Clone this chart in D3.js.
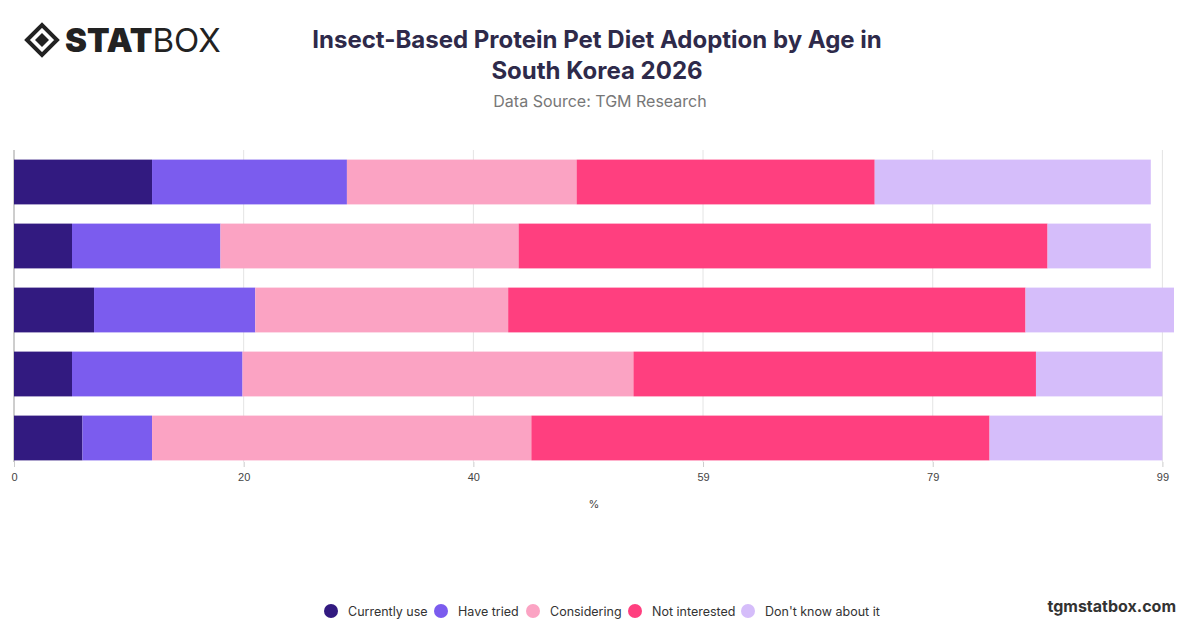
<!DOCTYPE html>
<html><head><meta charset="utf-8">
<script src="https://cdn.jsdelivr.net/npm/d3@7"></script>
<style>body{margin:0;background:#fff;font-family:Inter,"Noto Sans",sans-serif}</style>
</head><body><svg id="chart" width="1200" height="628"></svg>
<script>
// Данные
let ages = ["18-24", "25-34", "35-44", "45-54", "55+"];
let seriesNames = ["Currently use", "Have tried", "Considering", "Not interested", "Don't know about it"];
let colors = ["#321a80", "#7b5cee", "#fba3c3", "#ff3f7f", "#d5bdfa"];
let currentlyUse = [11.9, 5, 6.9, 5, 5.9];
let haveTried = [16.8, 12.8, 13.9, 14.7, 6];
let considering = [19.8, 25.7, 21.8, 33.7, 32.7];
let notInterested = [25.7, 45.6, 44.6, 34.7, 39.5];
let dontKnow = [23.8, 8.9, 12.8, 10.9, 14.9];
let tickValues = [0, 19.8, 39.6, 59.4, 79.2, 99];

let svg = d3.select("#chart");

// логотип
let logo = svg.append("g").attr("transform", "translate(27,40)");
logo.append("path").attr("d", "M0,0 L15,-15 L30,0 L15,15 Z").attr("fill", "none").attr("stroke", "#222").attr("stroke-width", 4);
logo.append("path").attr("d", "M8,0 L15,-7 L22,0 L15,7 Z").attr("fill", "#222");
logo.append("text").attr("x", 38).attr("y", 12).attr("font-size", 33).attr("fill", "#222")
  .html('<tspan font-weight="900">STAT</tspan><tspan font-weight="400">BOX</tspan>');

// заголовок
svg.append("text").attr("x", 597).attr("y", 48).attr("text-anchor", "middle").attr("font-size", 24).attr("font-weight", 700).attr("fill", "#2e2a4a").text("Insect-Based Protein Pet Diet Adoption by Age in");
svg.append("text").attr("x", 597).attr("y", 79).attr("text-anchor", "middle").attr("font-size", 24).attr("font-weight", 700).attr("fill", "#2e2a4a").text("South Korea 2026");
svg.append("text").attr("x", 600).attr("y", 107).attr("text-anchor", "middle").attr("font-size", 16).attr("fill", "#777").text("Data Source: TGM Research");

let x = d3.scaleLinear().domain([0, 100]).range([14, 1174]);
let y = d3.scaleBand().domain(ages).range([150, 470]).paddingInner(0.3).paddingOuter(0.15);

// сетка
svg.append("g").selectAll("line").data(tickValues).join("line")
  .attr("x1", d => x(d)).attr("x2", d => x(d)).attr("y1", 150).attr("y2", 462)
  .attr("stroke", "#e4e4e4");
svg.append("line").attr("x1", 14).attr("x2", 14).attr("y1", 150).attr("y2", 462).attr("stroke", "#aaa");

// стек
let table = ages.map((a, i) => ({age: a, s0: currentlyUse[i], s1: haveTried[i], s2: considering[i], s3: notInterested[i], s4: dontKnow[i]}));
let stack = d3.stack().keys(["s0", "s1", "s2", "s3", "s4"])(table);
svg.append("g").selectAll("g").data(stack).join("g").attr("fill", (d, i) => colors[i])
  .selectAll("rect").data(d => d).join("rect")
  .attr("x", d => x(d[0])).attr("width", d => x(d[1]) - x(d[0]))
  .attr("y", d => y(d.data.age)).attr("height", y.bandwidth());

// ось
let axis = svg.append("g").attr("transform", "translate(0,462)")
  .call(d3.axisBottom(x).tickValues(tickValues).tickFormat(d => Math.round(d)).tickSize(5));
axis.select(".domain").remove();
axis.selectAll("line").attr("stroke", "#ccc");
axis.selectAll("text").attr("font-size", 11).attr("fill", "#444").attr("dy", "1em");
svg.append("text").attr("x", 594).attr("y", 508).attr("text-anchor", "middle").attr("font-size", 11).attr("fill", "#444").text("%");

// легенда
let lx = [331, 441, 533, 635, 748];
let leg = svg.append("g").selectAll("g").data(seriesNames).join("g").attr("transform", (d, i) => `translate(${lx[i]},611)`);
leg.append("circle").attr("r", 7).attr("fill", (d, i) => colors[i]);
leg.append("text").attr("x", 17).attr("y", 5).attr("font-size", 12.5).attr("fill", "#333").text(d => d);

svg.append("text").attr("x", 1176).attr("y", 612).attr("text-anchor", "end").attr("font-size", 16).attr("font-weight", 700).attr("fill", "#333").text("tgmstatbox.com");
</script></body></html>
